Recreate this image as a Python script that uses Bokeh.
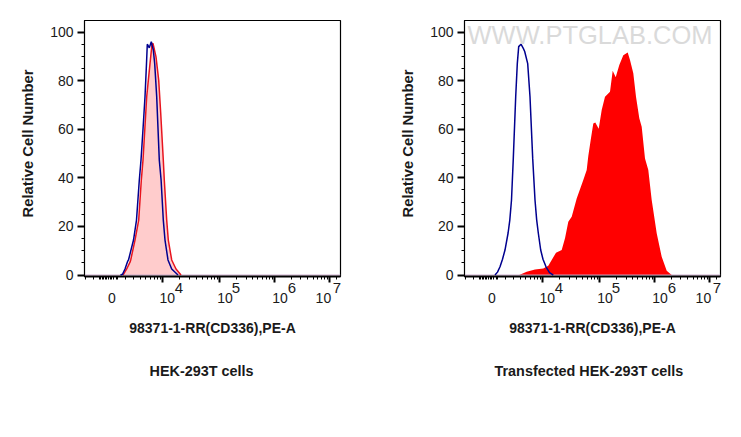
from bokeh.embed import file_html
from bokeh.layouts import row
from bokeh.models import FixedTicker, Label, LinearAxis, Title
from bokeh.plotting import figure
from bokeh.resources import INLINE

# x values are display channels of the biexponential axis (0-256)
left_blue_x = [36, 38, 40.5, 43, 44, 49, 52, 54.8, 56.5, 58.5, 60.5, 62, 62.8, 64.8, 66.8, 68.8, 70.2, 72.2, 74.8, 76.6, 78.8, 80.5, 83.5, 87.2, 93.5]
left_blue_y = [0, 0.3, 2.5, 5.5, 6.2, 14.4, 22.6, 39, 47.3, 60, 73.4, 87, 95, 93.5, 96, 92.6, 87, 73.4, 47.3, 39.1, 22.6, 14.4, 6.2, 2.5, 0]
left_red_x = [38.5, 42.2, 45.5, 46.2, 50.5, 54.2, 56.8, 58.5, 62.2, 65.5, 67.5, 68.5, 71.5, 74.2, 76.2, 78.8, 79.8, 82.2, 83.8, 87.2, 91.5, 96.5]
left_red_y = [0, 2.5, 5.3, 6.2, 14.4, 22.6, 39, 47.3, 73.4, 87, 95, 95.3, 89.8, 80.2, 66.7, 47.3, 39, 22.6, 14.4, 6.2, 2.5, 0]

right_blue_x = [30.5, 33, 35.5, 38, 40.5, 43.6, 45.3, 47, 48.8, 51.2, 52.8, 54.2, 56.5, 58.8, 60.2, 63.2, 65.5, 68.2, 70.5, 72.2, 73.8, 76.2, 78.5, 81.5, 85, 88.8]
right_blue_y = [0, 1.2, 3.4, 6.5, 10.3, 17.3, 22.6, 30.9, 48, 73.4, 87, 94, 95, 93.3, 92, 87, 73.4, 48, 30.9, 22.6, 17.3, 10.3, 6.5, 3.4, 1, 0]
right_red_x = [54.8, 62.2, 70.5, 78.8, 83.8, 87.2, 91.5, 97.2, 100.5, 103.8, 107.2, 112.2, 118.8, 122.2, 123.8, 126.2, 128.8, 130.8, 134.2, 137.2, 140.5, 145.5, 148.2, 151.2, 154.8, 158.8, 163.2, 165.5, 168.8, 171.5, 174.8, 177.2, 180.5, 183.8, 187.2, 192.2, 197.2, 202.2, 207.2]
right_red_y = [0, 1.4, 2.3, 2.7, 3.8, 6.2, 9.2, 10.3, 15.1, 21.9, 24, 31.5, 39.1, 43.2, 49, 55.6, 62.4, 62.8, 60.2, 67.9, 73.4, 75.4, 84.1, 81.4, 86.4, 90.5, 91.6, 88.5, 83, 73.4, 64.5, 61, 48, 43.2, 30.9, 17.2, 7.5, 1.8, 0]
baseline_x = [0, 256]
baseline_y = [0, 0]

x_major_ticks = [77.5, 135, 190, 244.5]
x_minor_ticks = [0.5, 8.5, 14.5, 15.5, 17.5, 18.5, 20.5, 21.5, 23.5, 25.5, 26.5, 28.5, 31.5, 32.5,
                 40.5, 48.5, 55.5, 60.5, 65.5, 69.5, 72.5, 75.5,
                 94.5, 104.5, 111.5, 117.5, 122.5, 126.5, 129.5, 132.5,
                 151.5, 161.5, 168, 173, 178, 181.5, 184.5, 187.5,
                 206.5, 216, 223, 228.5, 233, 237, 240, 242.5, 251.5]
y_major_ticks = [0, 20, 40, 60, 80, 100]
y_minor_ticks = [5, 10, 15, 25, 30, 35, 45, 50, 55, 65, 70, 75, 85, 90, 95]
y_major_labels = ["0", "20", "40", "60", "80", "100"]

x_base_labels = ["0", "10", "10", "10", "10"]
x_base_pos = [27.5, 82.7, 140.5, 195.5, 238.9]
x_exp_labels = ["4", "5", "6", "7"]
x_exp_pos = [94.4, 151.4, 207.4, 252.4]

x_axis_label = "98371-1-RR(CD336),PE-A"
y_axis_label = "Relative Cell Number"
left_title = "HEK-293T cells"
right_title = "Transfected HEK-293T cells"
watermark = "WWW.PTGLAB.COM"

FONT = "Liberation Sans"
BLUE = "#00008f"
RED_LINE = "#e8141e"
RED_SOLID = "#ff0000"
PINK = "#ffcccc"
BASE = "#c9a6c9"
TEXT = "#1a1a1a"
H = 429


def label_axis(positions, labels, standoff, size):
    a = LinearAxis(ticker=FixedTicker(ticks=positions, minor_ticks=[]),
                   major_label_overrides=dict(zip(positions, labels)),
                   major_tick_line_color=None, minor_tick_line_color=None,
                   axis_line_color=None, major_tick_in=0, major_tick_out=0,
                   minor_tick_in=0, minor_tick_out=0,
                   major_label_standoff=standoff, major_label_text_font=FONT,
                   major_label_text_font_size=size, major_label_text_color=TEXT)
    return a


def panel(width, border_right, title, title_offset):
    p = figure(width=width, height=H, output_backend="svg", toolbar_location=None,
               x_range=(0, 256), y_range=(-0.6, 104.75),
               frame_width=256, frame_height=256,
               min_border_left=84, min_border_right=border_right,
               min_border_top=20, min_border_bottom=H - 20 - 256)
    p.grid.visible = False
    p.outline_line_color = "black"
    p.outline_line_width = 1.2
    p.background_fill_color = "white"

    ax = p.xaxis[0]
    ax.ticker = FixedTicker(ticks=x_major_ticks, minor_ticks=x_minor_ticks)
    ax.major_label_overrides = {t: "" for t in x_major_ticks}
    ax.major_tick_in = 0
    ax.major_tick_out = 6
    ax.minor_tick_in = 0
    ax.minor_tick_out = 3
    ax.major_tick_line_width = 2
    ax.minor_tick_line_width = 1
    ax.axis_line_width = 2
    ax.major_label_standoff = 0

    exp_axis = label_axis(x_exp_pos, x_exp_labels, 0, "15px")
    base_axis = label_axis(x_base_pos, x_base_labels, -3, "14px")
    base_axis.axis_label = x_axis_label
    base_axis.axis_label_text_font = FONT
    base_axis.axis_label_text_font_style = "bold"
    base_axis.axis_label_text_font_size = "14px"
    base_axis.axis_label_text_color = TEXT
    base_axis.axis_label_standoff = 14
    p.add_layout(exp_axis, "below")
    p.add_layout(base_axis, "below")
    p.add_layout(Title(text=title, align="left", offset=title_offset, standoff=45,
                       text_font=FONT, text_font_style="bold", text_font_size="14.4px",
                       text_color=TEXT), "below")

    ay = p.yaxis[0]
    ay.ticker = FixedTicker(ticks=y_major_ticks, minor_ticks=y_minor_ticks)
    ay.major_label_overrides = dict(zip(y_major_ticks, y_major_labels))
    ay.major_tick_in = 0
    ay.major_tick_out = 7
    ay.minor_tick_in = 0
    ay.minor_tick_out = 3
    ay.major_tick_line_width = 2
    ay.minor_tick_line_width = 1
    ay.axis_line_width = 1
    ay.major_label_standoff = 4
    ay.major_label_text_font = FONT
    ay.major_label_text_font_size = "14px"
    ay.major_label_text_color = TEXT
    p.add_layout(Title(text=y_axis_label, align="left", offset=59, standoff=24,
                       text_font=FONT, text_font_style="bold", text_font_size="14.8px",
                       text_color=TEXT), "left")
    return p


left = panel(380, 40, left_title, 65)
left.varea(left_red_x, [0] * len(left_red_x), left_red_y, fill_color=PINK)
left.line(baseline_x, baseline_y, line_color=BASE, line_width=1)
left.line(left_red_x, left_red_y, line_color=RED_LINE, line_width=1.5)
left.line(left_blue_x, left_blue_y, line_color=BLUE, line_width=1.5)

right = panel(355, 15, right_title, 30)
right.add_layout(Label(x=3, y=98.8, text=watermark, text_font=FONT, text_font_size="25.5px",
                       text_color="#dadada", text_align="left", text_baseline="middle"))
right.varea(right_red_x, [0] * len(right_red_x), right_red_y, fill_color=RED_SOLID)
right.line(baseline_x, baseline_y, line_color=BASE, line_width=1)
right.line(right_blue_x, right_blue_y, line_color=BLUE, line_width=1.5)

page = row(left, right, spacing=0)
open("out.html", "w").write(file_html(page, INLINE))
